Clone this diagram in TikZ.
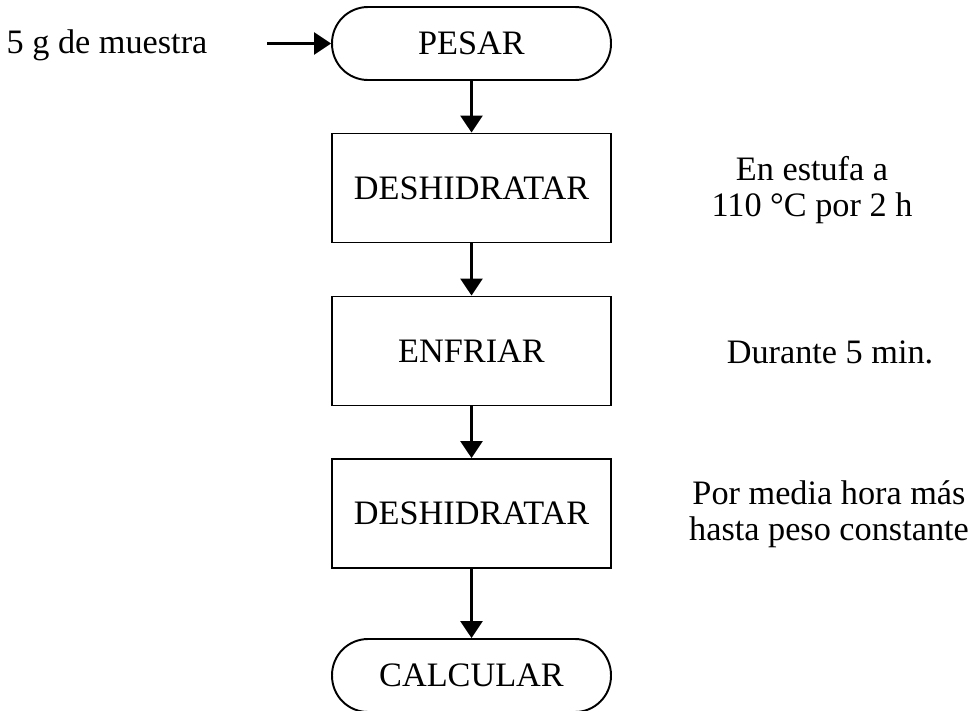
\documentclass[tikz,border=0pt]{standalone}
\usepackage{fontspec}
\setmainfont{Liberation Serif}
\usetikzlibrary{arrows.meta}

\begin{document}
\begin{tikzpicture}[x=0.02cm,y=-0.02cm,
    proc/.style={draw,line width=1.1pt,minimum width=5.58cm,minimum height=2.18cm,
      font=\fontsize{19.5}{21}\selectfont},
    term/.style={proc,minimum height=1.46cm,rounded corners=0.72cm},
    note/.style={align=center,font=\fontsize{19.5}{20.5}\selectfont},
    flow/.style={line width=1.5pt,-{Triangle[length=0.34cm,width=0.44cm]}}]
    \useasboundingbox (0,0) rectangle (976,710);
    % main column
    \node[term] (pesar) at (471.5,43.5) {PESAR};
    \node[proc] (desh1) at (471.5,188) {DESHIDRATAR};
    \node[proc] (enfr) at (471.5,351) {ENFRIAR};
    \node[proc] (desh2) at (471.5,513.5) {DESHIDRATAR};
    \node[term] (calc) at (471.5,675.5) {CALCULAR};
    % input
    \node[note] (muestra) at (107,45) {5 g de muestra};
    \coordinate (in) at (267,43.5);
    % side notes
    \node[note] (n1) at (812,190) {En estufa a\\110 °C por 2 h};
    \node[note] (n2) at (830,352) {Durante 5 min.};
    \node[note] (n3) at (829,514) {Por media hora más\\hasta peso constante};
    \draw[flow] (in) -- (pesar);
    \draw[flow] (pesar) -- (desh1);
    \draw[flow] (desh1) -- (enfr);
    \draw[flow] (enfr) -- (desh2);
    \draw[flow] (desh2) -- (calc);
\end{tikzpicture}
\end{document}
